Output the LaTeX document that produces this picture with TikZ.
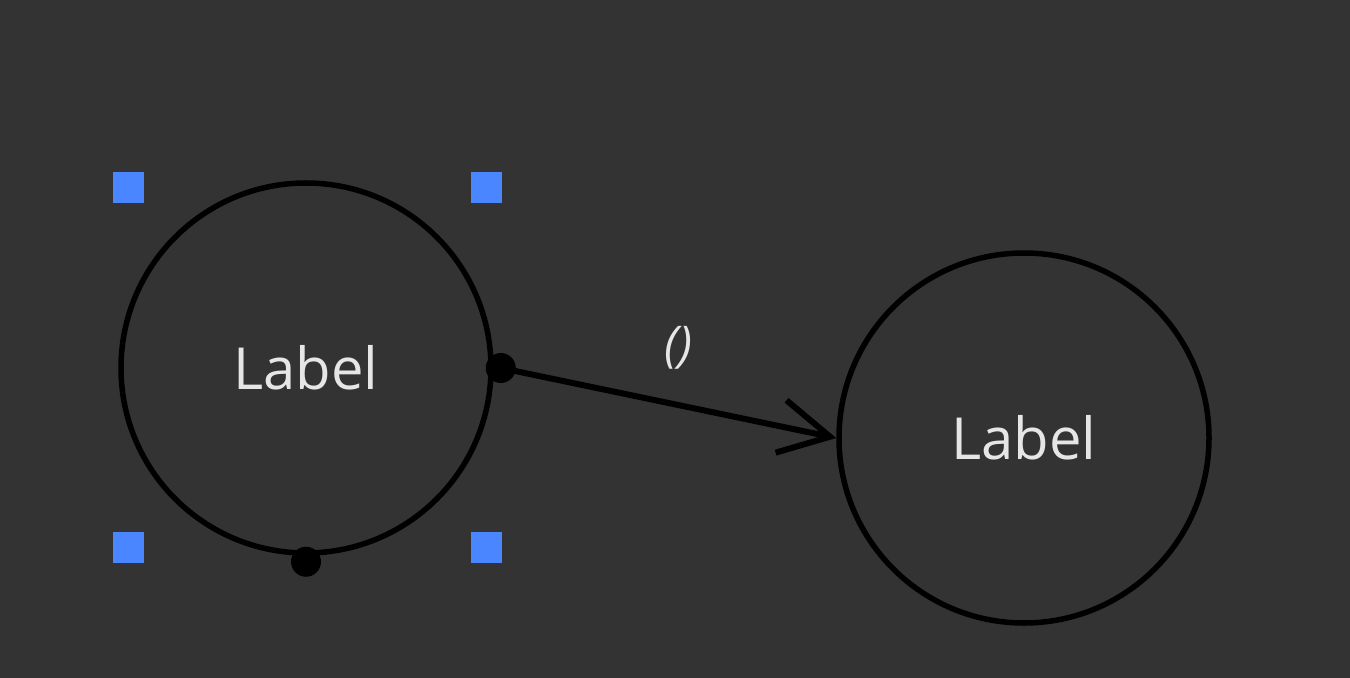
\documentclass[tikz,border=0pt]{standalone}
\usepackage{fontspec}
\setmainfont{Open Sans}
\usetikzlibrary{positioning,arrows.meta}
\definecolor{canvasbg}{RGB}{51,51,51}
\definecolor{handleblue}{RGB}{74,134,255}
\definecolor{labelgrey}{RGB}{230,230,232}
\tikzset{
  state/.style ={circle, draw=black, line width=1.1mm, minimum size=74mm, inner sep=0pt,
                 text=labelgrey, font=\fontsize{33}{38}\selectfont},
  handle/.style={rectangle, fill=handleblue, minimum size=6.2mm, inner sep=0pt},
  port/.style  ={circle, fill=black, minimum size=6mm, inner sep=0pt},
  trans/.style ={-{Straight Barb[length=10mm,width=10.7mm]}, draw=black, line width=1.2mm},
  tlbl/.style  ={text=labelgrey, inner sep=0pt, font=\itshape\fontsize{28}{32}\selectfont},
}
\begin{document}
\begin{tikzpicture}[x=0.2mm,y=-0.2mm]
% ---------- canvas ----------
\fill[canvasbg] (0,0) rectangle (1350,678);

% ---------- states ----------
\node[state] (lstate) at (306,368) {Label};
\node[state] (rstate) at (1024,438) {Label};

% ---------- selection handles ----------
\foreach \dx/\dy/\nm in {-178/-180/hnw, 180/-180/hne, -178/179/hsw, 180/179/hse}{
  \node[handle] (\nm) at ([shift={(\dx,\dy)}]lstate.center) {};
}

% ---------- ports ----------
\node[port] (pout) at ([xshift=7mm/5]lstate.east) {};
\node[port] (pbot) at ([yshift=-6mm/5]lstate.south) {};

% ---------- transition ----------
\draw[trans] (pout.center) -- (rstate.west)
  node[tlbl,pos=0.53,above=6.6mm] (tname) {()};
\end{tikzpicture}
\end{document}
